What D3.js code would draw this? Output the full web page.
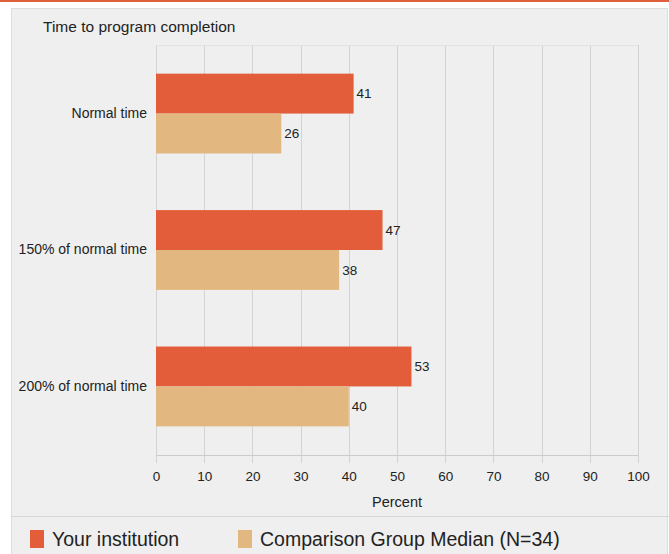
<!DOCTYPE html>
<html lang="en">
<head>
<meta charset="utf-8">
<title>Time to program completion</title>
<style>
body {
  margin: 0;
  background: #ffffff;
}
#chart text {
  font-family: "Liberation Sans", Arial, sans-serif;
  fill: #222222;
}
.grid line {
  stroke: #d3d3d3;
  shape-rendering: crispEdges;
}
.axis path, .axis line {
  display: none;
}
</style>
</head>
<body>
<div id="chart"></div>
<script src="https://d3js.org/d3.v7.min.js"></script>
<script>

var categories = ['Normal time', '150% of normal time', '200% of normal time'];
var seriesNames = ['Your institution', 'Comparison Group Median (N=34)'];
var yourInstitution = [41, 47, 53];
var comparisonMedian = [26, 38, 40];
var xTicks = [0, 10, 20, 30, 40, 50, 60, 70, 80, 90, 100];

var colors = ['#e35d3a', '#e2b880'];

var data = categories.map(function(c, i) {
  return {cat: c, values: [
    {name: seriesNames[0], value: yourInstitution[i]},
    {name: seriesNames[1], value: comparisonMedian[i]}
  ]};
});

var W = 669, H = 554;
var plot = {left: 156, right: 638, top: 45, bottom: 455};

var svg = d3.select('#chart')
  .append('svg')
  .attr('width', W)
  .attr('height', H);

// orange rule on top and grey panel
svg.append('rect')
  .attr('x', 0).attr('y', 0)
  .attr('width', W).attr('height', 2)
  .style('fill', '#e0603e');
svg.append('rect')
  .attr('x', 11.5).attr('y', 8.5)
  .attr('width', 656).attr('height', 560)
  .style('fill', '#efefef')
  .style('stroke', '#dcdcdc');
svg.append('line')
  .attr('x1', 11).attr('x2', W)
  .attr('y1', 516.5).attr('y2', 516.5)
  .style('stroke', '#d6d6d6');

var xS = d3.scaleLinear()
  .domain([0, 100])
  .range([plot.left, plot.right]);

var yS = d3.scaleBand()
  .domain(categories)
  .range([plot.top, plot.bottom])
  .paddingInner(0.415)
  .paddingOuter(0.21);

var yInner = d3.scaleBand()
  .domain(seriesNames)
  .range([0, yS.bandwidth()]);

var color = d3.scaleOrdinal()
  .domain(seriesNames)
  .range(colors);

// title
svg.append('text')
  .attr('x', 43)
  .attr('y', 27)
  .attr('dy', '0.35em')
  .style('font-size', '15.5px')
  .text('Time to program completion');

// vertical grid lines (they run a bit below the baseline like ticks)
svg.append('g')
  .attr('class', 'grid')
  .selectAll('line')
  .data(xTicks)
  .enter()
  .append('line')
  .attr('x1', function(d) { return Math.round(xS(d)) + 0.5; })
  .attr('x2', function(d) { return Math.round(xS(d)) + 0.5; })
  .attr('y1', plot.top)
  .attr('y2', plot.bottom + 8);

svg.append('line')
  .attr('x1', xS(0)).attr('x2', xS(100))
  .attr('y1', plot.bottom + 0.5).attr('y2', plot.bottom + 0.5)
  .style('stroke', '#cccccc');
svg.append('line')
  .attr('x1', xS(0)).attr('x2', xS(100))
  .attr('y1', plot.top + 0.5).attr('y2', plot.top + 0.5)
  .style('stroke', '#e3e3e3');

// bars
var groups = svg.selectAll('.group')
  .data(data)
  .enter()
  .append('g')
  .attr('class', 'group')
  .attr('transform', function(d) { return 'translate(0,' + yS(d.cat) + ')'; });

groups.selectAll('rect')
  .data(function(d) { return d.values; })
  .enter()
  .append('rect')
  .attr('x', xS(0))
  .attr('y', function(d) { return yInner(d.name); })
  .attr('width', function(d) { return xS(d.value) - xS(0); })
  .attr('height', yInner.bandwidth())
  .style('fill', function(d) { return color(d.name); });

groups.selectAll('.val')
  .data(function(d) { return d.values; })
  .enter()
  .append('text')
  .attr('class', 'val')
  .attr('x', function(d) { return xS(d.value) + 3; })
  .attr('y', function(d) { return yInner(d.name) + yInner.bandwidth() / 2; })
  .attr('dy', '0.35em')
  .style('font-size', '13.5px')
  .text(function(d) { return d.value; });

// axes
svg.append('g')
  .attr('class', 'axis')
  .attr('transform', 'translate(' + (plot.left - 4) + ',0)')
  .call(d3.axisLeft(yS).tickSize(0).tickPadding(5))
  .selectAll('text')
  .style('font-size', '14px');

svg.append('g')
  .attr('class', 'axis')
  .attr('transform', 'translate(0,' + (plot.bottom + 16) + ')')
  .call(d3.axisBottom(xS).tickValues(xTicks).tickSize(0).tickPadding(0))
  .selectAll('text')
  .style('font-size', '13.5px');

svg.append('text')
  .attr('x', (xS(0) + xS(100)) / 2)
  .attr('y', 502)
  .attr('dy', '0.35em')
  .attr('text-anchor', 'middle')
  .style('font-size', '14.5px')
  .text('Percent');

// legend
var legendX = [30, 238];
var legend = svg.selectAll('.legend')
  .data(seriesNames)
  .enter()
  .append('g')
  .attr('class', 'legend')
  .attr('transform', function(d, i) { return 'translate(' + legendX[i] + ',530)'; });

legend.append('rect')
  .attr('width', 14)
  .attr('height', 18)
  .style('fill', function(d) { return color(d); });

legend.append('text')
  .attr('x', 22)
  .attr('y', 9)
  .attr('dy', '0.35em')
  .style('font-size', '19.5px')
  .text(function(d) { return d; });

</script>
</body>
</html>
